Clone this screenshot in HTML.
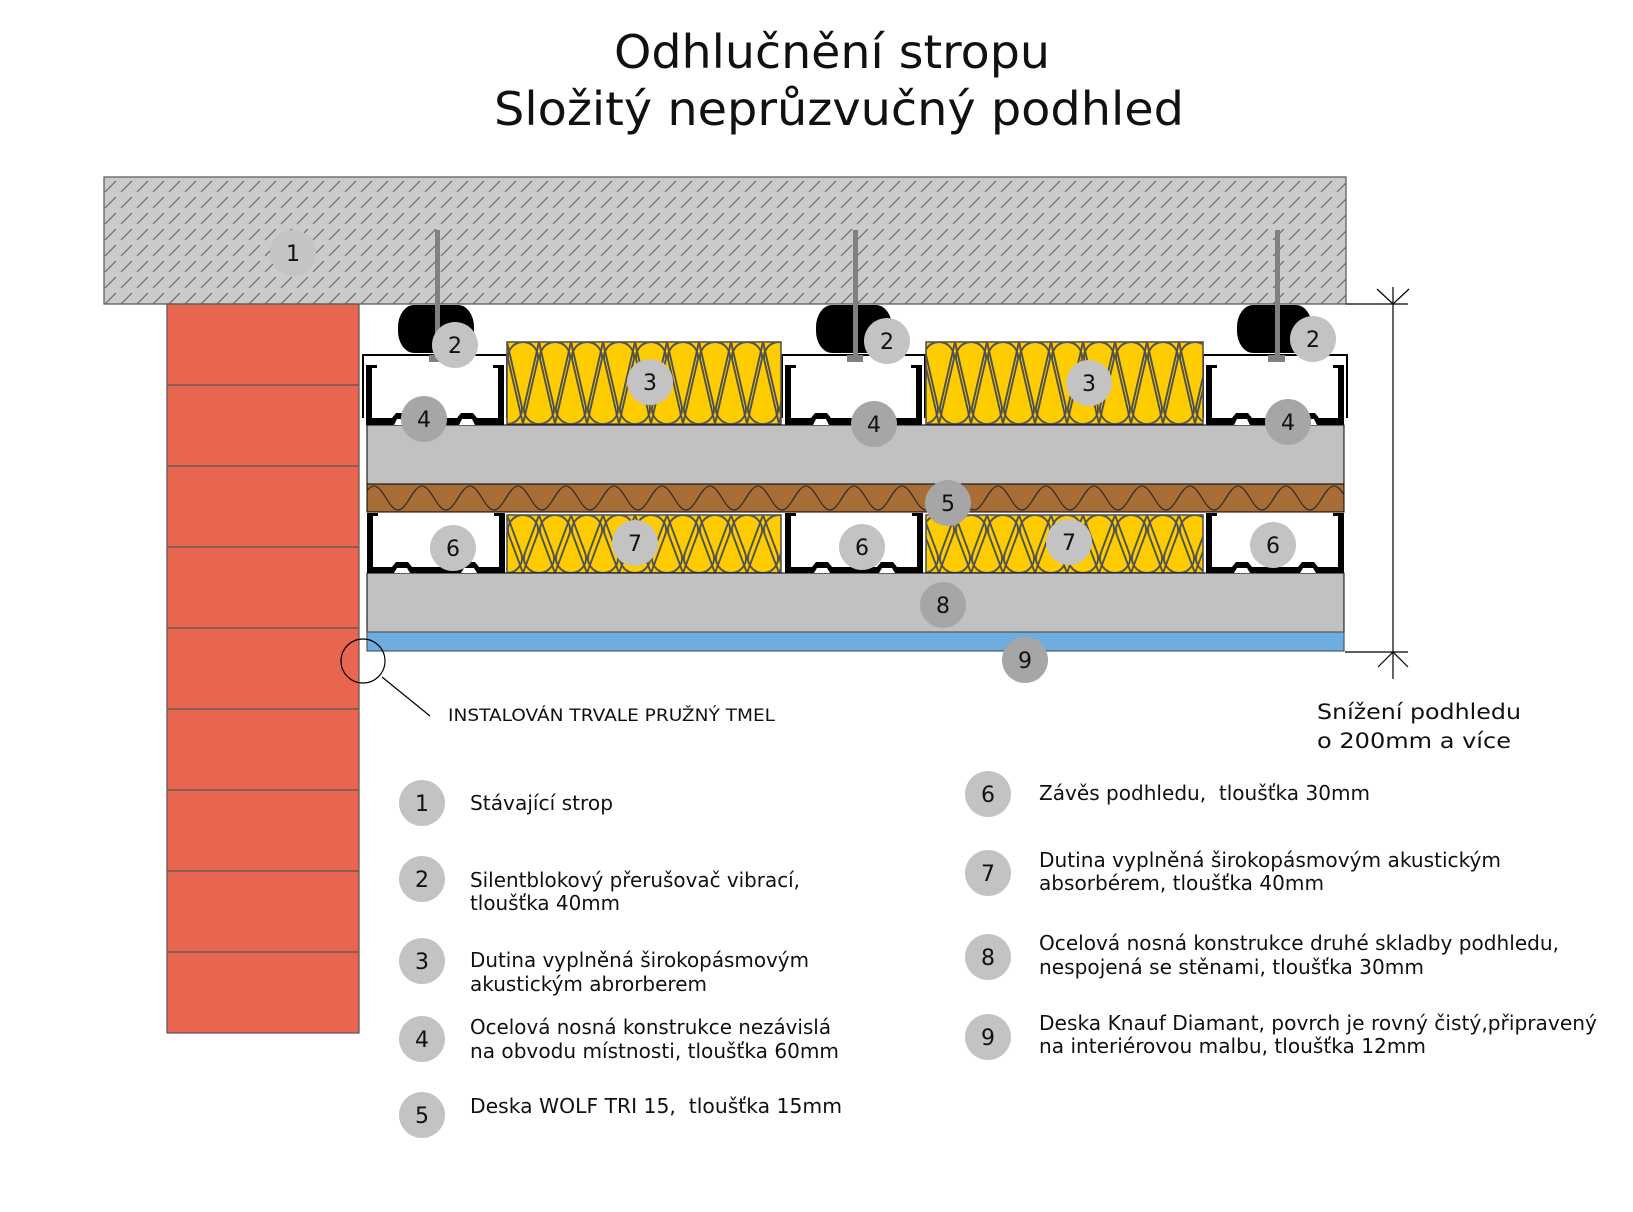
<!DOCTYPE html>
<html>
<head>
<meta charset="utf-8">
<style>
  html,body{margin:0;padding:0;background:#fff;}
  svg{display:block;}
  text{font-family:"DejaVu Sans","Liberation Sans",sans-serif;fill:#111;}
</style>
</head>
<body>
<svg width="1633" height="1212" viewBox="0 0 1633 1212" xmlns="http://www.w3.org/2000/svg">
  <defs>
    <pattern id="hatch" patternUnits="userSpaceOnUse" x="104" y="177" width="16" height="16">
      <line x1="1" y1="15" x2="12" y2="4" stroke="#5a5a5a" stroke-width="1"/>
    </pattern>
    <pattern id="insU" patternUnits="userSpaceOnUse" x="507" y="342" width="32" height="82">
      <g fill="none" stroke="#505050" stroke-width="1.9">
        <path d="M16,82 L1.38,18.36 A15,15 0 1 1 30.62,18.36 Z"/>
        <path d="M0,0 L14.62,63.64 A15,15 0 1 1 -14.62,63.64 Z"/>
        <path d="M32,0 L46.62,63.64 A15,15 0 1 1 17.38,63.64 Z"/>
      </g>
    </pattern>
    <pattern id="insL" patternUnits="userSpaceOnUse" x="507" y="515" width="32" height="58">
      <g fill="none" stroke="#505050" stroke-width="1.9">
        <path d="M16,58 L1.94,20.23 A15,15 0 1 1 30.06,20.23 Z"/>
        <path d="M0,0 L14.06,37.77 A15,15 0 1 1 -14.06,37.77 Z"/>
        <path d="M32,0 L46.06,37.77 A15,15 0 1 1 17.94,37.77 Z"/>
      </g>
    </pattern>
    <pattern id="wave" patternUnits="userSpaceOnUse" x="374" y="484" width="48" height="28">
      <path d="M0,2 C9,2 15,26 24,26 C33,26 39,2 48,2" fill="none" stroke="#222" stroke-width="1.1"/>
    </pattern>
  </defs>

  <!-- Title -->
  <text x="614" y="68" font-size="46" textLength="436" lengthAdjust="spacingAndGlyphs">Odhlučnění stropu</text>
  <text x="494" y="125" font-size="46" textLength="690" lengthAdjust="spacingAndGlyphs">Složitý neprůzvučný podhled</text>

  <!-- Concrete slab -->
  <rect x="104" y="177" width="1242" height="127" fill="#cbcbcb" stroke="#555" stroke-width="1.2"/>
  <rect x="104" y="177" width="1242" height="127" fill="url(#hatch)"/>

  <!-- Brick wall -->
  <rect x="167" y="304" width="192" height="729" fill="#e8664f" stroke="#555" stroke-width="1.2"/>
  <g stroke="#555" stroke-width="1.2">
    <line x1="167" y1="385" x2="359" y2="385"/>
    <line x1="167" y1="466" x2="359" y2="466"/>
    <line x1="167" y1="547" x2="359" y2="547"/>
    <line x1="167" y1="628" x2="359" y2="628"/>
    <line x1="167" y1="709" x2="359" y2="709"/>
    <line x1="167" y1="790" x2="359" y2="790"/>
    <line x1="167" y1="871" x2="359" y2="871"/>
    <line x1="167" y1="952" x2="359" y2="952"/>
  </g>

  <!-- Silentblocks -->
  <rect x="398" y="305" width="76" height="48" rx="16" ry="22" fill="#000"/>
  <rect x="816" y="305" width="76" height="48" rx="16" ry="22" fill="#000"/>
  <rect x="1237" y="305" width="75" height="48" rx="16" ry="22" fill="#000"/>

  <!-- Outer thin profile lines (upper) -->
  <g stroke="#000" stroke-width="2" fill="none">
    <path d="M363,418 V355 H507 V418"/>
    <path d="M782,418 V355 H925 V418"/>
    <path d="M1203,418 V355 H1347 V418"/>
  </g>

  <!-- Rods -->
  <g fill="#808080">
    <rect x="435" y="230" width="5" height="130"/>
    <rect x="429" y="355" width="17" height="7"/>
    <rect x="853" y="230" width="5" height="130"/>
    <rect x="847" y="355" width="16" height="7"/>
    <rect x="1275" y="230" width="5" height="130"/>
    <rect x="1268" y="355" width="17" height="7"/>
  </g>

  <!-- Upper insulation -->
  <rect x="507" y="342" width="274" height="82" fill="#ffcc00"/>
  <rect x="507" y="342" width="274" height="82" fill="url(#insU)" stroke="#555" stroke-width="1.6"/>
  <rect x="926" y="342" width="277" height="82" fill="#ffcc00"/>
  <rect x="926" y="342" width="277" height="82" fill="url(#insU)" stroke="#555" stroke-width="1.6"/>

  <!-- Lower insulation -->
  <rect x="507" y="515" width="274" height="58" fill="#ffcc00"/>
  <rect x="507" y="515" width="274" height="58" fill="url(#insL)" stroke="#555" stroke-width="1.6"/>
  <rect x="926" y="515" width="277" height="58" fill="#ffcc00"/>
  <rect x="926" y="515" width="277" height="58" fill="url(#insL)" stroke="#555" stroke-width="1.6"/>

  <!-- Boards -->
  <rect x="367" y="425" width="977" height="59" fill="#c1c1c1" stroke="#000" stroke-width="1"/>
  <rect x="367" y="484" width="977" height="28" fill="#a66d36" stroke="#000" stroke-width="1"/>
  <rect x="367" y="484" width="977" height="28" fill="url(#wave)"/>
  <rect x="367" y="573" width="977" height="59" fill="#c1c1c1" stroke="#000" stroke-width="1"/>
  <rect x="367" y="632" width="977" height="19" fill="#6dade0" stroke="#555" stroke-width="1.2"/>

  <!-- Upper profiles (inner C) -->
  <g fill="#000">
    <rect x="366" y="365" width="6" height="60"/><rect x="498" y="365" width="6" height="60"/>
    <rect x="366" y="365" width="11" height="3"/><rect x="493" y="365" width="11" height="3"/>
    <rect x="366" y="418" width="138" height="7"/>
    <polygon points="392,418 396,413 408,413 412,418"/>
    <polygon points="457,418 461,413 473,413 477,418"/>
    <rect x="785" y="365" width="6" height="60"/><rect x="916" y="365" width="6" height="60"/>
    <rect x="785" y="365" width="11" height="3"/><rect x="911" y="365" width="11" height="3"/>
    <rect x="785" y="418" width="137" height="7"/>
    <polygon points="811,418 815,413 827,413 831,418"/>
    <polygon points="875,418 879,413 891,413 895,418"/>
    <rect x="1206" y="365" width="6" height="60"/><rect x="1338" y="365" width="6" height="60"/>
    <rect x="1206" y="365" width="11" height="3"/><rect x="1333" y="365" width="11" height="3"/>
    <rect x="1206" y="418" width="138" height="7"/>
    <polygon points="1232,418 1236,413 1248,413 1252,418"/>
    <polygon points="1299,418 1303,413 1315,413 1319,418"/>
  </g>
  <g fill="#fff">
    <polygon points="394,425 397,419 407,419 410,425"/>
    <polygon points="459,425 462,419 472,419 475,425"/>
    <polygon points="813,425 816,419 826,419 829,425"/>
    <polygon points="877,425 880,419 890,419 893,425"/>
    <polygon points="1234,425 1237,419 1247,419 1250,425"/>
    <polygon points="1301,425 1304,419 1314,419 1317,425"/>
  </g>

  <!-- Lower profiles -->
  <g fill="#000">
    <rect x="367" y="513" width="6" height="60"/><rect x="499" y="513" width="6" height="60"/>
    <rect x="367" y="513" width="11" height="3"/><rect x="494" y="513" width="11" height="3"/>
    <rect x="367" y="567" width="138" height="6"/>
    <polygon points="392,567 396,562 408,562 412,567"/>
    <polygon points="459,567 463,562 475,562 479,567"/>
    <rect x="785" y="513" width="6" height="60"/><rect x="917" y="513" width="6" height="60"/>
    <rect x="785" y="513" width="11" height="3"/><rect x="912" y="513" width="11" height="3"/>
    <rect x="785" y="567" width="138" height="6"/>
    <polygon points="812,567 816,562 828,562 832,567"/>
    <polygon points="877,567 881,562 893,562 897,567"/>
    <rect x="1206" y="513" width="6" height="60"/><rect x="1338" y="513" width="6" height="60"/>
    <rect x="1206" y="513" width="11" height="3"/><rect x="1333" y="513" width="11" height="3"/>
    <rect x="1206" y="567" width="138" height="6"/>
    <polygon points="1232,567 1236,562 1248,562 1252,567"/>
    <polygon points="1298,567 1302,562 1314,562 1318,567"/>
  </g>
  <g fill="#fff">
    <polygon points="394,573 397,568 407,568 410,573"/>
    <polygon points="461,573 464,568 474,568 477,573"/>
    <polygon points="814,573 817,568 827,568 830,573"/>
    <polygon points="879,573 882,568 892,568 895,573"/>
    <polygon points="1234,573 1237,568 1247,568 1250,573"/>
    <polygon points="1300,573 1303,568 1313,568 1316,573"/>
  </g>

  <!-- Sealant detail -->
  <circle cx="363" cy="661" r="22" fill="none" stroke="#000" stroke-width="1.2"/>
  <line x1="382" y1="677" x2="430" y2="716" stroke="#000" stroke-width="1.2"/>
  <text x="448" y="721" font-size="17" textLength="327" lengthAdjust="spacingAndGlyphs">INSTALOVÁN TRVALE PRUŽNÝ TMEL</text>

  <!-- Dimension -->
  <g stroke="#000" stroke-width="1.2" fill="none">
    <line x1="1346" y1="304" x2="1408" y2="304"/>
    <line x1="1345" y1="652" x2="1408" y2="652"/>
    <line x1="1393" y1="287" x2="1393" y2="679"/>
    <polyline points="1377,289 1393,304 1409,289"/>
    <polyline points="1378,667 1393,652 1408,667"/>
  </g>
  <text x="1317" y="719" font-size="21" textLength="204" lengthAdjust="spacingAndGlyphs">Snížení podhledu</text>
  <text x="1317" y="748" font-size="21" textLength="194" lengthAdjust="spacingAndGlyphs">o 200mm a více</text>

  <!-- Diagram markers -->
  <g font-size="22" text-anchor="middle">
    <circle cx="293" cy="253" r="23" fill="#c4c4c4"/><text x="293" y="261">1</text>
    <circle cx="455" cy="345" r="23" fill="#c3c3c3"/><text x="455" y="353">2</text>
    <circle cx="887" cy="341" r="23" fill="#c3c3c3"/><text x="887" y="349">2</text>
    <circle cx="1313" cy="339" r="23" fill="#c3c3c3"/><text x="1313" y="347">2</text>
    <circle cx="650" cy="382" r="23" fill="#c3c3c3"/><text x="650" y="390">3</text>
    <circle cx="1089" cy="383" r="23" fill="#c3c3c3"/><text x="1089" y="391">3</text>
    <circle cx="424" cy="419" r="23" fill="#a6a6a6"/><text x="424" y="427">4</text>
    <circle cx="874" cy="424" r="23" fill="#a6a6a6"/><text x="874" y="432">4</text>
    <circle cx="1288" cy="422" r="23" fill="#a6a6a6"/><text x="1288" y="430">4</text>
    <circle cx="948" cy="503" r="23" fill="#a6a6a6"/><text x="948" y="511">5</text>
    <circle cx="453" cy="548" r="23" fill="#c3c3c3"/><text x="453" y="556">6</text>
    <circle cx="862" cy="547" r="23" fill="#c3c3c3"/><text x="862" y="555">6</text>
    <circle cx="1273" cy="545" r="23" fill="#c3c3c3"/><text x="1273" y="553">6</text>
    <circle cx="635" cy="543" r="23" fill="#c3c3c3"/><text x="635" y="551">7</text>
    <circle cx="1069" cy="542" r="23" fill="#c3c3c3"/><text x="1069" y="550">7</text>
    <circle cx="943" cy="605" r="23" fill="#a6a6a6"/><text x="943" y="613">8</text>
    <circle cx="1025" cy="660" r="23" fill="#a6a6a6"/><text x="1025" y="668">9</text>
  </g>

  <!-- Legend circles -->
  <g font-size="22" text-anchor="middle">
    <circle cx="422" cy="803" r="23" fill="#c3c3c3"/><text x="422" y="811">1</text>
    <circle cx="422" cy="879" r="23" fill="#c3c3c3"/><text x="422" y="887">2</text>
    <circle cx="422" cy="961" r="23" fill="#c3c3c3"/><text x="422" y="969">3</text>
    <circle cx="422" cy="1039" r="23" fill="#c3c3c3"/><text x="422" y="1047">4</text>
    <circle cx="422" cy="1115" r="23" fill="#c3c3c3"/><text x="422" y="1123">5</text>
    <circle cx="988" cy="794" r="23" fill="#c3c3c3"/><text x="988" y="802">6</text>
    <circle cx="988" cy="873" r="23" fill="#c3c3c3"/><text x="988" y="881">7</text>
    <circle cx="988" cy="957" r="23" fill="#c3c3c3"/><text x="988" y="965">8</text>
    <circle cx="988" cy="1037" r="23" fill="#c3c3c3"/><text x="988" y="1045">9</text>
  </g>
  <g font-size="20">
    <text x="470" y="810" textLength="143" lengthAdjust="spacingAndGlyphs">Stávající strop</text>
    <text x="470" y="887" textLength="330" lengthAdjust="spacingAndGlyphs">Silentblokový přerušovač vibrací,</text>
    <text x="470" y="910" textLength="150" lengthAdjust="spacingAndGlyphs">tloušťka 40mm</text>
    <text x="470" y="967" textLength="339" lengthAdjust="spacingAndGlyphs">Dutina vyplněná širokopásmovým</text>
    <text x="470" y="991" textLength="237" lengthAdjust="spacingAndGlyphs">akustickým abrorberem</text>
    <text x="470" y="1034" textLength="361" lengthAdjust="spacingAndGlyphs">Ocelová nosná konstrukce nezávislá</text>
    <text x="470" y="1058" textLength="369" lengthAdjust="spacingAndGlyphs">na obvodu místnosti, tloušťka 60mm</text>
    <text x="470" y="1113" textLength="372" lengthAdjust="spacingAndGlyphs">Deska WOLF TRI 15,&#160; tloušťka 15mm</text>

    <text x="1039" y="800" textLength="331" lengthAdjust="spacingAndGlyphs">Závěs podhledu,&#160; tloušťka 30mm</text>
    <text x="1039" y="867" textLength="462" lengthAdjust="spacingAndGlyphs">Dutina vyplněná širokopásmovým akustickým</text>
    <text x="1039" y="890" textLength="285" lengthAdjust="spacingAndGlyphs">absorbérem, tloušťka 40mm</text>
    <text x="1039" y="950" textLength="520" lengthAdjust="spacingAndGlyphs">Ocelová nosná konstrukce druhé skladby podhledu,</text>
    <text x="1039" y="974" textLength="385" lengthAdjust="spacingAndGlyphs">nespojená se stěnami, tloušťka 30mm</text>
    <text x="1039" y="1030" textLength="558" lengthAdjust="spacingAndGlyphs">Deska Knauf Diamant, povrch je rovný čistý,připravený</text>
    <text x="1039" y="1053" textLength="387" lengthAdjust="spacingAndGlyphs">na interiérovou malbu, tloušťka 12mm</text>
  </g>
</svg>
</body>
</html>
